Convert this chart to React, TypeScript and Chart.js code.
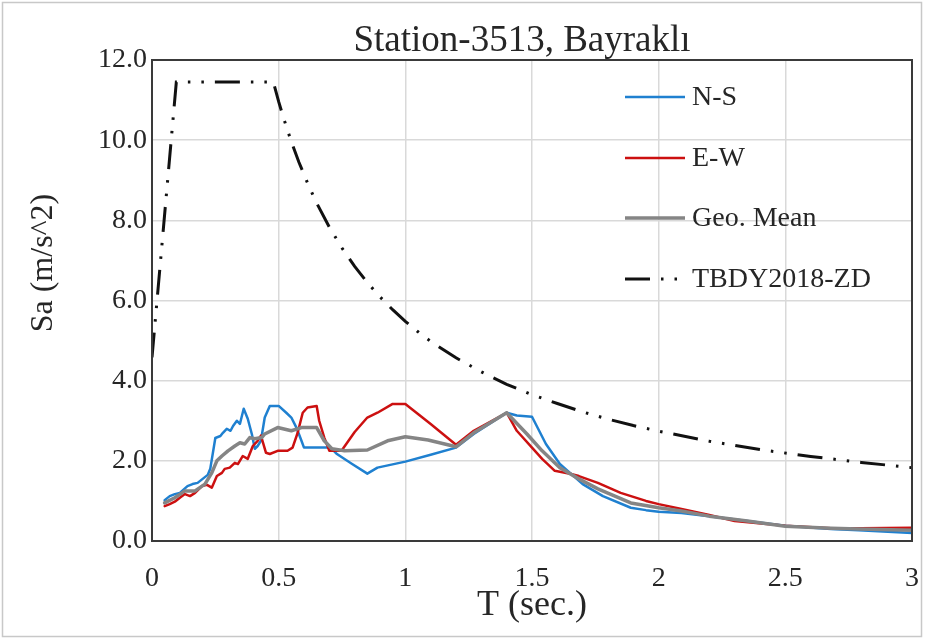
import React, { useEffect, useRef } from 'react';
import { Chart, registerables } from 'chart.js';

Chart.register(...registerables);

const chartTitle = 'Station-3513, Bayraklı';
const xAxisTitle = 'T (sec.)';
const yAxisTitle = 'Sa (m/s^2)';
const seriesLabels = ['N-S', 'E-W', 'Geo. Mean', 'TBDY2018-ZD'];
const xTickLabels = ['0', '0.5', '1', '1.5', '2', '2.5', '3'];
const yTickLabels = ['0.0', '2.0', '4.0', '6.0', '8.0', '10.0', '12.0'];

const nsPeriods = [0.05, 0.07, 0.09, 0.11, 0.14, 0.16, 0.18, 0.2, 0.22, 0.23, 0.25, 0.27, 0.28, 0.295, 0.31, 0.32, 0.335, 0.347, 0.362, 0.378, 0.394, 0.406, 0.417, 0.43, 0.445, 0.465, 0.5, 0.53, 0.55, 0.57, 0.59, 0.6, 0.67, 0.69, 0.71, 0.73, 0.79, 0.85, 0.89, 1.0, 1.1, 1.2, 1.27, 1.4, 1.44, 1.5, 1.555, 1.61, 1.65, 1.7, 1.78, 1.89, 1.95, 2.0, 2.09, 2.2, 2.35, 2.5, 2.68, 2.79, 3.0];
const nsSa = [1.02, 1.12, 1.17, 1.2, 1.37, 1.42, 1.45, 1.55, 1.65, 1.8, 2.57, 2.62, 2.7, 2.8, 2.75, 2.87, 3.0, 2.92, 3.3, 3.05, 2.67, 2.3, 2.37, 2.5, 3.08, 3.37, 3.37, 3.2, 3.08, 2.83, 2.5, 2.33, 2.33, 2.33, 2.3, 2.17, 1.92, 1.68, 1.83, 1.98, 2.15, 2.33, 2.67, 3.2, 3.13, 3.1, 2.42, 1.92, 1.7, 1.42, 1.12, 0.83, 0.77, 0.73, 0.7, 0.62, 0.5, 0.38, 0.3, 0.27, 0.2];

const ewPeriods = [0.05, 0.07, 0.09, 0.11, 0.13, 0.15, 0.17, 0.197, 0.217, 0.236, 0.256, 0.276, 0.287, 0.307, 0.327, 0.339, 0.358, 0.378, 0.398, 0.417, 0.43, 0.45, 0.465, 0.496, 0.535, 0.555, 0.575, 0.595, 0.614, 0.65, 0.66, 0.68, 0.7, 0.748, 0.8, 0.85, 0.89, 0.95, 1.0, 1.1, 1.2, 1.27, 1.4, 1.44, 1.5, 1.54, 1.59, 1.65, 1.685, 1.76, 1.85, 1.95, 2.0, 2.09, 2.2, 2.3, 2.5, 2.68, 2.8, 3.0];
const ewSa = [0.87, 0.92, 0.98, 1.08, 1.17, 1.12, 1.2, 1.37, 1.4, 1.33, 1.62, 1.7, 1.8, 1.83, 1.95, 1.92, 2.12, 2.05, 2.37, 2.5, 2.63, 2.2, 2.17, 2.25, 2.25, 2.33, 2.7, 3.2, 3.33, 3.37, 3.0, 2.58, 2.25, 2.25, 2.72, 3.08, 3.2, 3.42, 3.42, 2.92, 2.4, 2.75, 3.2, 2.75, 2.33, 2.05, 1.75, 1.68, 1.62, 1.45, 1.2, 1.0, 0.92, 0.8, 0.65, 0.5, 0.38, 0.32, 0.32, 0.33];

const gmPeriods = [0.05, 0.09, 0.13, 0.17, 0.209, 0.236, 0.256, 0.276, 0.3, 0.327, 0.347, 0.366, 0.386, 0.406, 0.433, 0.445, 0.496, 0.55, 0.59, 0.65, 0.68, 0.71, 0.76, 0.85, 0.93, 1.0, 1.09, 1.2, 1.27, 1.4, 1.48, 1.54, 1.61, 1.685, 1.76, 1.89, 2.0, 2.09, 2.2, 2.35, 2.5, 2.68, 2.79, 3.0];
const gmSa = [0.95, 1.08, 1.25, 1.25, 1.42, 1.7, 2.0, 2.12, 2.25, 2.37, 2.45, 2.42, 2.58, 2.55, 2.58, 2.67, 2.83, 2.75, 2.83, 2.83, 2.5, 2.3, 2.25, 2.27, 2.5, 2.6, 2.52, 2.35, 2.7, 3.2, 2.67, 2.25, 1.83, 1.55, 1.3, 0.95, 0.83, 0.75, 0.62, 0.5, 0.37, 0.32, 0.3, 0.27];

const tbdyPeriods = [0, 0.096, 0.479, 0.5, 0.52, 0.55, 0.58, 0.62, 0.65, 0.7, 0.75, 0.8, 0.85, 0.9, 0.95, 1.0, 1.05, 1.1, 1.2, 1.3, 1.4, 1.5, 1.6, 1.7, 1.8, 1.9, 2.0, 2.2, 2.4, 2.6, 2.8, 3.0];
const tbdySa = [4.58, 11.45, 11.45, 10.96, 10.54, 9.96, 9.45, 8.84, 8.43, 7.83, 7.31, 6.85, 6.45, 6.09, 5.77, 5.48, 5.22, 4.98, 4.57, 4.22, 3.91, 3.65, 3.43, 3.22, 3.04, 2.88, 2.74, 2.49, 2.28, 2.11, 1.96, 1.83];

const FONT = '"Liberation Serif", "Times New Roman", serif';
const TEXT = '#262626';

const toPoints = (xs: number[], ys: number[]) => xs.map((x, i) => ({ x, y: ys[i] }));

const decorPlugin = {
  id: 'decor',
  afterDatasetsDraw(chart: any) {
    const { ctx, chartArea } = chart;
    const { left, top, right, bottom } = chartArea;
    ctx.save();
    ctx.strokeStyle = '#3a3a3a';
    ctx.lineWidth = 2;
    ctx.setLineDash([]);
    ctx.strokeRect(left, top, right - left, bottom - top);

    const rowY = [97, 158, 218, 279];
    [0, 1, 2, 3].forEach((di, r) => {
      const ds = chart.data.datasets[di];
      const y = rowY[r];
      ctx.beginPath();
      ctx.strokeStyle = ds.borderColor;
      ctx.lineWidth = ds.borderWidth;
      ctx.setLineDash(ds.borderDash || []);
      ctx.lineCap = 'butt';
      ctx.moveTo(625, y);
      ctx.lineTo(685, y);
      ctx.stroke();
      ctx.setLineDash([]);
      ctx.fillStyle = TEXT;
      ctx.font = `28px ${FONT}`;
      ctx.textAlign = 'left';
      ctx.textBaseline = 'middle';
      ctx.fillText(ds.label, 692, y + 1);
    });

    ctx.strokeStyle = '#c8c8c8';
    ctx.lineWidth = 1.5;
    ctx.strokeRect(2.5, 2.5, 919, 634);
    ctx.restore();
  },
  afterDraw(chart: any) {
    const { ctx } = chart;
    ctx.save();
    ctx.fillStyle = TEXT;
    ctx.textAlign = 'center';
    ctx.textBaseline = 'middle';
    ctx.font = `37px ${FONT}`;
    ctx.fillText(chartTitle, 522, 41);
    ctx.translate(44, 263);
    ctx.rotate(-Math.PI / 2);
    ctx.font = `32px ${FONT}`;
    ctx.fillText(yAxisTitle, 0, 0);
    ctx.restore();
  },
};

export default function App() {
  const canvasRef = useRef<HTMLCanvasElement | null>(null);

  useEffect(() => {
    const canvas = canvasRef.current;
    if (!canvas) return;
    const chart = new Chart(canvas, {
      type: 'line',
      data: {
        datasets: [
          {
            label: seriesLabels[0],
            data: toPoints(nsPeriods, nsSa),
            borderColor: '#1f80d0',
            borderWidth: 2.5,
            pointRadius: 0,
            borderJoinStyle: 'round',
            borderCapStyle: 'round',
            order: 4,
          },
          {
            label: seriesLabels[1],
            data: toPoints(ewPeriods, ewSa),
            borderColor: '#cc1010',
            borderWidth: 2.5,
            pointRadius: 0,
            borderJoinStyle: 'round',
            borderCapStyle: 'round',
            order: 3,
          },
          {
            label: seriesLabels[2],
            data: toPoints(gmPeriods, gmSa),
            borderColor: '#858585',
            borderWidth: 3.5,
            pointRadius: 0,
            borderJoinStyle: 'round',
            borderCapStyle: 'round',
            order: 2,
          },
          {
            label: seriesLabels[3],
            data: toPoints(tbdyPeriods, tbdySa),
            borderColor: '#111111',
            borderWidth: 3,
            borderDash: [25, 11, 2.5, 11, 2.5, 11],
            pointRadius: 0,
            order: 1,
          },
        ],
      } as any,
      options: {
        animation: false,
        responsive: false,
        layout: { padding: { left: 0, right: 13, top: 60, bottom: 0 } },
        plugins: {
          legend: { display: false },
          title: { display: false },
          tooltip: { enabled: false },
        },
        scales: {
          x: {
            type: 'linear',
            min: 0,
            max: 3,
            afterFit: (s: any) => { s.height = 100; s.paddingLeft = 0; s.paddingRight = 0; },
            ticks: {
              stepSize: 0.5,
              padding: 21,
              color: TEXT,
              font: { family: FONT, size: 28 },
              callback: (_v: any, i: number) => xTickLabels[i],
            },
            grid: { color: '#d9d9d9', lineWidth: 1.5, drawTicks: false },
            border: { display: false },
            title: {
              display: true,
              text: xAxisTitle,
              color: TEXT,
              font: { family: FONT, size: 36 },
              padding: { top: 0, bottom: 14 },
            },
          },
          y: {
            type: 'linear',
            min: 0,
            max: 12,
            afterFit: (s: any) => { s.width = 152; s.paddingTop = 0; s.paddingBottom = 0; },
            ticks: {
              stepSize: 2,
              padding: 5,
              color: TEXT,
              font: { family: FONT, size: 28 },
              callback: (_v: any, i: number) => yTickLabels[i],
            },
            grid: { color: '#d9d9d9', lineWidth: 1.5, drawTicks: false },
            border: { display: false },
          },
        },
      } as any,
      plugins: [decorPlugin],
    });
    return () => chart.destroy();
  }, []);

  return (
    <div style={{ position: 'absolute', left: 0, top: 0, width: 925, height: 641, background: '#ffffff' }}>
      <canvas ref={canvasRef} width={925} height={641} />
    </div>
  );
}
